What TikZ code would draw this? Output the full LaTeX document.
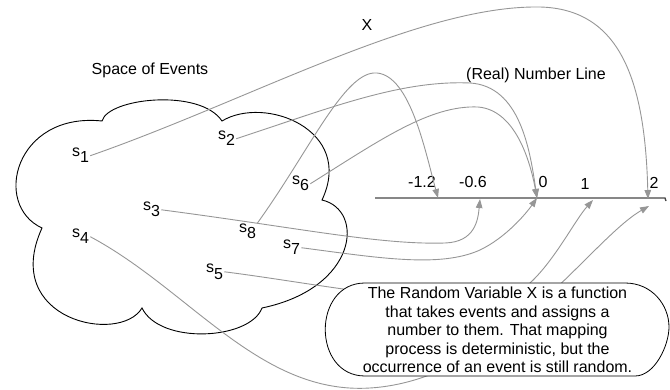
\documentclass[tikz,border=0pt]{standalone}
\usepackage{fontspec}
\setmainfont{Liberation Sans}
\usetikzlibrary{arrows.meta}
\definecolor{mapgray}{RGB}{150,150,150}
\definecolor{linegray}{RGB}{70,70,70}

\begin{document}
\begin{tikzpicture}[
  x=1pt, y=-1pt,
  every node/.style={font=\fontsize{16}{18.5}\selectfont, inner sep=1pt},
  event/.style={anchor=base west},
  tick/.style={anchor=center},
  map/.style={draw=mapgray, line width=0.9pt,
              -{Triangle[length=9pt,width=6.5pt,fill=mapgray]}},
  notebox/.style={align=center, inner sep=0pt},
]
\useasboundingbox (0,0) rectangle (670,390);
% space of events (cloud)
\draw[line width=0.9pt]
  (102,121) .. controls (108,98) and (200,88) .. (222,121)
  .. controls (265,95) and (355,130) .. (322,200)
  .. controls (365,210) and (358,288) .. (262,308)
  .. controls (250,340) and (160,345) .. (142,308)
  .. controls (120,345) and (0,320) .. (42,228)
  .. controls (-8,205) and (15,112) .. (102,121) -- cycle;
\node (soe) at (150,70) {Space of Events};
\node (rvx) at (367,25) {X};
\node (nline) at (536,75) {(Real) Number Line};
% events
\node[event] (s1) at (71,157) {s\raisebox{-6pt}{1}};
\node[event] (s2) at (217,140) {s\raisebox{-6pt}{2}};
\node[event] (s3) at (142,211) {s\raisebox{-6pt}{3}};
\node[event] (s4) at (71,238) {s\raisebox{-6pt}{4}};
\node[event] (s5) at (205,273) {s\raisebox{-6pt}{5}};
\node[event] (s6) at (291,185) {s\raisebox{-6pt}{6}};
\node[event] (s7) at (282,249) {s\raisebox{-6pt}{7}};
\node[event] (s8) at (238,233) {s\raisebox{-6pt}{8}};
% number line
\draw[linegray, line width=1.3pt] (375,198) -- (665,198) -- (666,201);
\coordinate (pm12) at (438,198);
\coordinate (pm06) at (480,199);
\coordinate (p0) at (537,198);
\coordinate (p1) at (593,200);
\coordinate (p2a) at (648,199);
\coordinate (p2b) at (649,206);
\node[tick] (lm12) at (422,182) {-1.2};
\node[tick] (lm06) at (473,182) {-0.6};
\node[tick] (l0) at (543,182) {0};
\node[tick] (l1) at (585,184) {1};
\node[tick] (l2) at (654,183) {2};
% mappings from above
\draw[map] (s1.east) .. controls (250,100) and (420,5) .. (540,7)
  .. controls (620,9) and (645,80) .. (p2a);
\draw[map] (s2.east) .. controls (330,108) and (400,80) .. (470,83)
  .. controls (520,86) and (530,150) .. (p0);
\draw[map] (s6.east) .. controls (380,140) and (430,105) .. (478,107)
  .. controls (515,110) and (530,160) .. (p0);
\draw[map] (s8.north east) .. controls (310,150) and (345,70) .. (377,73)
  .. controls (410,76) and (425,150) .. (pm12);
% mappings from below
\draw[map] (s3.east) .. controls (300,228) and (380,245) .. (445,243)
  .. controls (475,242) and (478,220) .. (pm06);
\draw[map] (s7.east) .. controls (380,258) and (440,268) .. (480,250)
  .. controls (505,238) and (525,215) .. (p0);
\draw[map] (s5.east) .. controls (330,285) and (490,320) .. (530,283)
  .. controls (555,260) and (575,220) .. (p1);
\draw[map] (s4.east) .. controls (190,290) and (260,395) .. (370,388)
  .. controls (500,380) and (590,240) .. (p2b);
% explanation
\draw[fill=white, line width=0.8pt]
  (365,283) -- (625,283) .. controls (652,283) and (669,305) .. (669,327)
  .. controls (669,345) and (655,376) .. (635,376) -- (365,376)
  .. controls (312,376) and (312,283) .. (365,283) -- cycle;
\node[notebox] (note) at (497.5,330)
  {The Random Variable X is a function\\that takes events and assigns a\\number to them. That mapping\\process is deterministic, but the\\occurrence of an event is still random.};
\end{tikzpicture}
\end{document}
